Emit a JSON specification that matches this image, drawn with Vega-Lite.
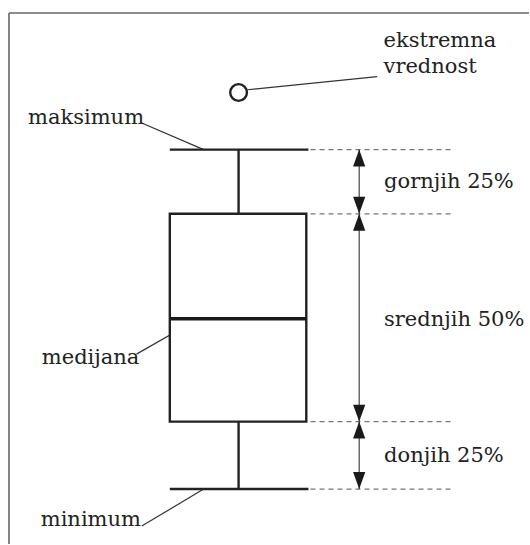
{
  "$schema": "https://vega.github.io/schema/vega-lite/v6.json",
  "width": 530,
  "height": 545,
  "padding": 0,
  "autosize": {"type": "fit", "contains": "padding"},
  "background": "white",
  "config": {"view": {"stroke": null}},
  "datasets": {
    "segments": [
      {"kind": "frame", "x": 1.7, "y": 97.6, "x2": 100, "y2": 97.6},
      {"kind": "frame", "x": 1.7, "y": 97.6, "x2": 1.7, "y2": 0},
      {"kind": "whisker", "x": 45.1, "y": 72.5, "x2": 45.1, "y2": 60.7},
      {"kind": "whisker", "x": 45.1, "y": 22.5, "x2": 45.1, "y2": 10.1},
      {"kind": "whisker", "x": 32.1, "y": 72.5, "x2": 58.3, "y2": 72.5},
      {"kind": "whisker", "x": 32.1, "y": 10.1, "x2": 58.3, "y2": 10.1},
      {"kind": "median", "x": 32.1, "y": 41.4, "x2": 57.9, "y2": 41.4},
      {"kind": "guide", "x": 58.7, "y": 72.5, "x2": 85.5, "y2": 72.5},
      {"kind": "guide", "x": 58.7, "y": 60.7, "x2": 85.5, "y2": 60.7},
      {"kind": "guide", "x": 58.7, "y": 22.5, "x2": 85.5, "y2": 22.5},
      {"kind": "guide", "x": 58.7, "y": 10.1, "x2": 85.5, "y2": 10.1},
      {"kind": "arrow", "x": 67.9, "y": 72.5, "x2": 67.9, "y2": 60.7},
      {"kind": "arrow", "x": 67.9, "y": 60.7, "x2": 67.9, "y2": 22.5},
      {"kind": "arrow", "x": 67.9, "y": 22.5, "x2": 67.9, "y2": 10.1},
      {"kind": "leader", "x": 46.8, "y": 83.5, "x2": 71.3, "y2": 85.9},
      {"kind": "leader", "x": 26.8, "y": 77.4, "x2": 38.5, "y2": 72.5},
      {"kind": "leader", "x": 25.8, "y": 34.9, "x2": 37.5, "y2": 41.4},
      {"kind": "leader", "x": 26.8, "y": 3.3, "x2": 38.5, "y2": 10.1}
    ],
    "box": [{"x": 32.1, "x2": 57.9, "y": 22.5, "y2": 60.7}],
    "heads": [
      {"x": 67.9, "y": 72.5, "dir": "up"},
      {"x": 67.9, "y": 60.7, "dir": "up"},
      {"x": 67.9, "y": 22.5, "dir": "up"},
      {"x": 67.9, "y": 60.7, "dir": "down"},
      {"x": 67.9, "y": 22.5, "dir": "down"},
      {"x": 67.9, "y": 10.1, "dir": "down"}
    ],
    "outliers": [{"x": 45.1, "y": 83}],
    "labels": [
      {"label": "ekstremna", "x": 72.5, "y": 91.4},
      {"label": "vrednost", "x": 72.5, "y": 86.6},
      {"label": "maksimum", "x": 5.3, "y": 77.2},
      {"label": "gornjih 25%", "x": 72.6, "y": 65.5},
      {"label": "srednjih 50%", "x": 72.6, "y": 40.0},
      {"label": "donjih 25%", "x": 72.6, "y": 15.0},
      {"label": "medijana", "x": 7.9, "y": 33.0},
      {"label": "minimum", "x": 7.7, "y": 3.3}
    ]
  },
  "layer": [
    {
      "data": {"name": "segments"},
      "transform": [{"filter": "datum.kind == 'frame'"}],
      "mark": {"type": "rule", "stroke": "#666666", "strokeWidth": 1.6},
      "encoding": {
        "x": {"field": "x", "type": "quantitative", "scale": {"domain": [0, 100], "nice": false, "zero": false}, "axis": null},
        "y": {"field": "y", "type": "quantitative", "scale": {"domain": [0, 100], "nice": false, "zero": false}, "axis": null},
        "x2": {"field": "x2"},
        "y2": {"field": "y2"}
      }
    },
    {
      "data": {"name": "segments"},
      "transform": [{"filter": "datum.kind == 'guide'"}],
      "mark": {"type": "rule", "stroke": "#777777", "strokeWidth": 1.2, "strokeDash": [5, 4]},
      "encoding": {
        "x": {"field": "x", "type": "quantitative", "scale": {"domain": [0, 100], "nice": false, "zero": false}, "axis": null},
        "y": {"field": "y", "type": "quantitative", "scale": {"domain": [0, 100], "nice": false, "zero": false}, "axis": null},
        "x2": {"field": "x2"},
        "y2": {"field": "y2"}
      }
    },
    {
      "data": {"name": "segments"},
      "transform": [{"filter": "datum.kind == 'arrow'"}],
      "mark": {"type": "rule", "stroke": "#444444", "strokeWidth": 1.2},
      "encoding": {
        "x": {"field": "x", "type": "quantitative", "scale": {"domain": [0, 100], "nice": false, "zero": false}, "axis": null},
        "y": {"field": "y", "type": "quantitative", "scale": {"domain": [0, 100], "nice": false, "zero": false}, "axis": null},
        "x2": {"field": "x2"},
        "y2": {"field": "y2"}
      }
    },
    {
      "data": {"name": "segments"},
      "transform": [{"filter": "datum.kind == 'leader'"}],
      "mark": {"type": "rule", "stroke": "#333333", "strokeWidth": 1.2},
      "encoding": {
        "x": {"field": "x", "type": "quantitative", "scale": {"domain": [0, 100], "nice": false, "zero": false}, "axis": null},
        "y": {"field": "y", "type": "quantitative", "scale": {"domain": [0, 100], "nice": false, "zero": false}, "axis": null},
        "x2": {"field": "x2"},
        "y2": {"field": "y2"}
      }
    },
    {
      "data": {"name": "segments"},
      "transform": [{"filter": "datum.kind == 'whisker'"}],
      "mark": {"type": "rule", "stroke": "#222222", "strokeWidth": 2.4},
      "encoding": {
        "x": {"field": "x", "type": "quantitative", "scale": {"domain": [0, 100], "nice": false, "zero": false}, "axis": null},
        "y": {"field": "y", "type": "quantitative", "scale": {"domain": [0, 100], "nice": false, "zero": false}, "axis": null},
        "x2": {"field": "x2"},
        "y2": {"field": "y2"}
      }
    },
    {
      "data": {"name": "box"},
      "mark": {"type": "rect", "fill": "white", "stroke": "#222222", "strokeWidth": 2.4},
      "encoding": {
        "x": {"field": "x", "type": "quantitative", "scale": {"domain": [0, 100], "nice": false, "zero": false}, "axis": null},
        "y": {"field": "y", "type": "quantitative", "scale": {"domain": [0, 100], "nice": false, "zero": false}, "axis": null},
        "x2": {"field": "x2"},
        "y2": {"field": "y2"}
      }
    },
    {
      "data": {"name": "segments"},
      "transform": [{"filter": "datum.kind == 'median'"}],
      "mark": {"type": "rule", "stroke": "#1a1a1a", "strokeWidth": 3.6},
      "encoding": {
        "x": {"field": "x", "type": "quantitative", "scale": {"domain": [0, 100], "nice": false, "zero": false}, "axis": null},
        "y": {"field": "y", "type": "quantitative", "scale": {"domain": [0, 100], "nice": false, "zero": false}, "axis": null},
        "x2": {"field": "x2"},
        "y2": {"field": "y2"}
      }
    },
    {
      "data": {"name": "heads"},
      "mark": {"type": "point", "filled": true, "fill": "#1a1a1a", "opacity": 1, "size": 1150, "strokeWidth": 0},
      "encoding": {
        "x": {"field": "x", "type": "quantitative", "scale": {"domain": [0, 100], "nice": false, "zero": false}, "axis": null},
        "y": {"field": "y", "type": "quantitative", "scale": {"domain": [0, 100], "nice": false, "zero": false}, "axis": null},
        "shape": {"field": "dir", "type": "nominal", "legend": null, "scale": {"domain": ["up", "down"], "range": ["M0,0L-0.36,1L0.36,1Z", "M0,0L-0.36,-1L0.36,-1Z"]}}
      }
    },
    {
      "data": {"name": "outliers"},
      "mark": {"type": "point", "shape": "circle", "filled": false, "stroke": "#222222", "strokeWidth": 2.4, "size": 280, "opacity": 1},
      "encoding": {
        "x": {"field": "x", "type": "quantitative", "scale": {"domain": [0, 100], "nice": false, "zero": false}, "axis": null},
        "y": {"field": "y", "type": "quantitative", "scale": {"domain": [0, 100], "nice": false, "zero": false}, "axis": null}
      }
    },
    {
      "data": {"name": "labels"},
      "mark": {"type": "text", "align": "left", "baseline": "alphabetic", "font": "DejaVu Serif", "fontSize": 21, "fill": "#222222"},
      "encoding": {
        "x": {"field": "x", "type": "quantitative", "scale": {"domain": [0, 100], "nice": false, "zero": false}, "axis": null},
        "y": {"field": "y", "type": "quantitative", "scale": {"domain": [0, 100], "nice": false, "zero": false}, "axis": null},
        "text": {"field": "label"}
      }
    }
  ]
}
